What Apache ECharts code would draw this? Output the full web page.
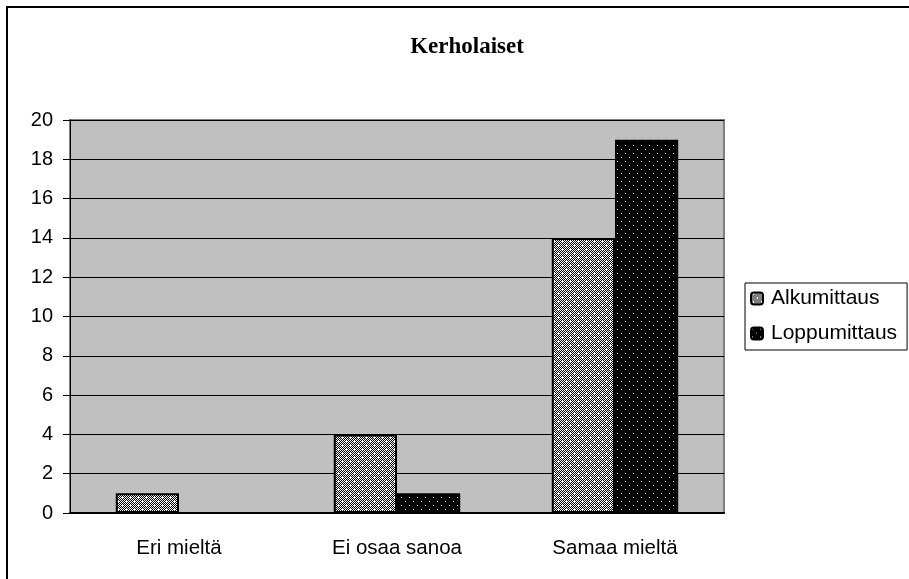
<!DOCTYPE html>
<html>
<head>
<meta charset="utf-8">
<script src="https://cdn.jsdelivr.net/npm/echarts@6/dist/echarts.min.js"></script>
<style>
  html, body { margin: 0; padding: 0; background: #fff; }
</style>
</head>
<body>
<div id="chart" style="width: 909px; height: 579px;"></div>
<script>
const categories = ['Eri mieltä', 'Ei osaa sanoa', 'Samaa mieltä'];
const seriesNames = ['Alkumittaus', 'Loppumittaus'];
const alkuValues = [1, 4, 14];
const loppuValues = [0, 1, 19];

// pieni kuviotiili pylväille
function makePattern(kind) {
    const c = document.createElement('canvas');
    c.width = 8;
    c.height = 8;
    const ctx = c.getContext('2d');
    if (kind === 'checker') {
        ctx.fillStyle = '#000';
        ctx.fillRect(0, 0, 8, 8);
        ctx.fillStyle = '#fff';
        for (let y = 0; y < 8; y++) {
            for (let x = 0; x < 8; x++) {
                if ((x + y) % 2 === 0) ctx.fillRect(x, y, 1, 1);
            }
        }
        ctx.fillRect(2, 1, 1, 2);
        ctx.fillRect(6, 5, 1, 2);
    } else {
        ctx.fillStyle = '#000';
        ctx.fillRect(0, 0, 8, 8);
        ctx.fillStyle = '#fff';
        ctx.fillRect(1, 1, 1, 1);
        ctx.fillStyle = '#bbb';
        ctx.fillRect(5, 5, 1, 1);
    }
    return c;
}

const chart = echarts.init(document.getElementById('chart'));

const options = {
    animation: false,
    title: {
        text: 'Kerholaiset',
        left: 462,
        textAlign: 'center',
        top: 31,
        textStyle: {
            fontFamily: 'Liberation Serif',
            fontWeight: 'bold',
            fontSize: 23,
            color: '#000'
        }
    },
    graphic: [
        {
            type: 'rect',
            shape: { x: 7, y: 7, width: 1000, height: 1000 },
            style: { fill: 'none', stroke: '#000', lineWidth: 2 },
            silent: true
        }
    ],
    legend: {
        orient: 'vertical',
        left: 745,
        top: 283,
        padding: [5, 10, 6, 5],
        itemGap: 14,
        itemWidth: 12,
        itemHeight: 12,
        borderColor: '#000',
        borderWidth: 1,
        data: seriesNames,
        textStyle: {
            fontFamily: 'Liberation Sans',
            fontSize: 21,
            color: '#000',
            padding: [0, 0, 0, 3]
        }
    },
    grid: {
        left: 70,
        right: 185,
        top: 120,
        bottom: 66,
        show: true,
        backgroundColor: '#c0c0c0',
        borderColor: '#808080',
        borderWidth: 2
    },
    xAxis: {
        type: 'category',
        data: categories,
        axisLine: { lineStyle: { color: '#000', width: 2 } },
        axisTick: { length: 7, lineStyle: { color: '#000' } },
        axisLabel: {
            margin: 25,
            fontFamily: 'Liberation Sans',
            fontSize: 20.5,
            color: '#000'
        }
    },
    yAxis: {
        type: 'value',
        min: 0,
        max: 20,
        interval: 2,
        axisLine: { show: true, lineStyle: { color: '#000', width: 1 } },
        axisTick: { show: true, length: 7, lineStyle: { color: '#000' } },
        splitLine: { lineStyle: { color: '#000', width: 1 } },
        axisLabel: {
            margin: 17,
            fontFamily: 'Liberation Sans',
            fontSize: 20,
            color: '#000'
        }
    },
    series: [
        {
            name: seriesNames[0],
            type: 'bar',
            barGap: '0%',
            barCategoryGap: '42%',
            data: alkuValues,
            itemStyle: {
                color: { image: makePattern('checker'), repeat: 'repeat' },
                borderColor: '#000',
                borderWidth: 2
            }
        },
        {
            name: seriesNames[1],
            type: 'bar',
            data: loppuValues,
            itemStyle: {
                color: { image: makePattern('dots'), repeat: 'repeat' },
                borderColor: '#000',
                borderWidth: 2
            }
        }
    ]
};

chart.setOption(options);
</script>
</body>
</html>
